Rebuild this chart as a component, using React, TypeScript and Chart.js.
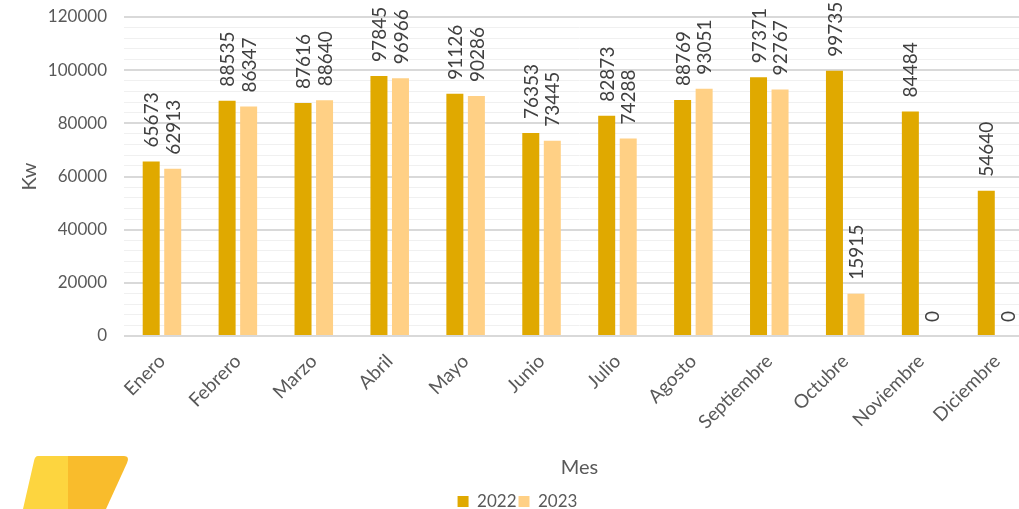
import React, { useEffect, useRef } from "react";
import { Chart, registerables } from "chart.js";

Chart.register(...registerables);

const categories = [
  "Enero", "Febrero", "Marzo", "Abril", "Mayo", "Junio",
  "Julio", "Agosto", "Septiembre", "Octubre", "Noviembre", "Diciembre",
];
const values2022 = [65673, 88535, 87616, 97845, 91126, 76353, 82873, 88769, 97371, 99735, 84484, 54640];
const values2023 = [62913, 86347, 88640, 96966, 90286, 73445, 74288, 93051, 92767, 15915, 0, 0];
const seriesLabels = ["2022", "2023"];
const yTickMajor = 20000;
const yTickMinor = 4000;
const yMax = 120000;

const FONT = "Lato, 'Open Sans', sans-serif";
const TEXT = "#595959";

const dataLabelPlugin = {
  id: "dataLabels",
  afterDatasetsDraw(chart: any) {
    const ctx = chart.ctx;
    ctx.save();
    ctx.font = `19px ${FONT}`;
    ctx.fillStyle = "#404040";
    ctx.textAlign = "left";
    ctx.textBaseline = "middle";
    chart.data.datasets.forEach((ds: any, di: number) => {
      const meta = chart.getDatasetMeta(di);
      meta.data.forEach((el: any, i: number) => {
        const v = ds.data[i];
        ctx.save();
        ctx.translate(el.x + 1, el.y - 14);
        ctx.rotate(-Math.PI / 2);
        ctx.fillText(String(v), 0, 0);
        ctx.restore();
      });
    });
    ctx.restore();
  },
};

export default function App() {
  const ref = useRef<HTMLCanvasElement | null>(null);
  useEffect(() => {
    document.body.style.margin = "0";
    document.body.style.overflow = "hidden";
    const chart = new Chart(ref.current as HTMLCanvasElement, {
      type: "bar",
      data: {
        labels: categories,
        datasets: [
          {
            label: seriesLabels[0],
            data: values2022,
            backgroundColor: "#E0A900",
            categoryPercentage: 0.567,
            barPercentage: 0.79,
          },
          {
            label: seriesLabels[1],
            data: values2023,
            backgroundColor: "#FFD085",
            categoryPercentage: 0.567,
            barPercentage: 0.79,
          },
        ],
      },
      options: {
        responsive: false,
        animation: false,
        devicePixelRatio: 1,
        layout: { padding: { top: 17, right: 15, left: 0, bottom: -11 } },
        plugins: {
          legend: {
            position: "bottom",
            labels: {
              font: { family: FONT, size: 17 },
              color: TEXT,
              boxWidth: 11,
              boxHeight: 11,
              padding: 2,
            },
          },
          tooltip: { enabled: false },
        },
        scales: {
          x: {
            grid: { display: false },
            border: { display: false },
            ticks: {
              font: { family: FONT, size: 19 },
              color: TEXT,
              minRotation: 45,
              maxRotation: 45,
              padding: 6,
            },
            title: {
              display: true,
              text: "Mes",
              font: { family: FONT, size: 20 },
              color: TEXT,
              padding: { top: 0, bottom: 11 },
            },
            afterFit(scale: any) {
              scale.height = 155;
            },
          },
          y: {
            min: 0,
            max: yMax,
            border: { display: false },
            grid: {
              drawTicks: false,
              color: (c: any) => (c.tick && c.tick.value % yTickMajor === 0 ? "#D9D9D9" : "#F0F0F0"),
              lineWidth: (c: any) => (c.tick && c.tick.value % yTickMajor === 0 ? 2 : 1),
            },
            ticks: {
              stepSize: yTickMinor,
              autoSkip: false,
              font: { family: FONT, size: 17 },
              color: TEXT,
              padding: 17,
              callback: (v: any) => (Number(v) % yTickMajor === 0 ? String(v) : ""),
            },
            title: {
              display: true,
              text: "Kw",
              font: { family: FONT, size: 20 },
              color: TEXT,
              padding: { top: 18, bottom: 0 },
            },
            afterFit(scale: any) {
              scale.width = 124;
              scale.paddingTop = 0;
              scale.paddingBottom = 0;
            },
          },
        },
      },
      plugins: [dataLabelPlugin],
    } as any);
    return () => chart.destroy();
  }, []);

  return (
    <div style={{ position: "fixed", left: 0, top: 0, width: 1019, height: 509, overflow: "hidden", background: "#fff" }}>
      <canvas ref={ref} width={1050} height={509} style={{ position: "absolute", left: 0, top: 0 }} />
      <svg width={140} height={60} viewBox="0 450 140 60" style={{ position: "absolute", left: 0, top: 450 }}>
        <path d="M38,456 L68,456 L68,509 L23,509 L34,461 Q35,456 38,456 Z" fill="#FDD53F" />
        <path d="M68,456 L124,456 Q130,456 127,463 L106,509 L68,509 Z" fill="#F9BC2C" />
      </svg>
    </div>
  );
}
